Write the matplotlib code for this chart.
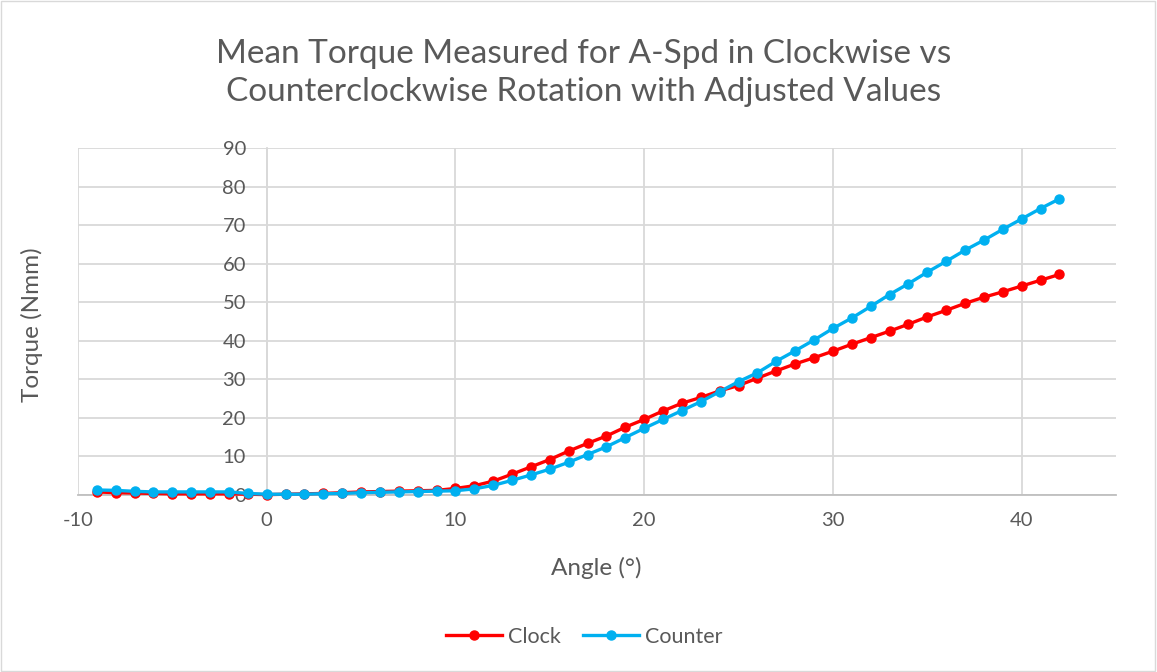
import matplotlib.pyplot as plt
from matplotlib.patches import Rectangle

plt.rcParams['font.family'] = ['Lato', 'DejaVu Sans']
plt.rcParams['axes.unicode_minus'] = False

# angles, degrees
angle = list(range(-9, 43))

# mean torque (Nmm), clockwise
clock = [0.8, 0.6, 0.5, 0.4, 0.3, 0.3, 0.3, 0.3, 0.2, 0.1,
         0.2, 0.3, 0.4, 0.6, 0.8, 0.9, 1.0, 1.1, 1.2, 1.7,
         2.4, 3.6, 5.4, 7.3, 9.2, 11.4, 13.4, 15.3, 17.6, 19.6,
         21.8, 23.8, 25.3, 27.0, 28.4, 30.3, 32.2, 34.0, 35.6, 37.3,
         39.1, 40.8, 42.5, 44.3, 46.2, 47.9, 49.7, 51.3, 52.7, 54.2,
         55.7, 57.2]

# mean torque (Nmm), counterclockwise
counter = [1.3, 1.2, 0.95, 0.8, 0.8, 0.8, 0.8, 0.8, 0.4, 0.2,
           0.2, 0.2, 0.35, 0.4, 0.6, 0.7, 0.8, 0.9, 1.0, 1.1,
           1.6, 2.5, 3.8, 5.2, 6.7, 8.5, 10.5, 12.5, 14.9, 17.3,
           19.6, 21.9, 24.2, 26.8, 29.4, 31.7, 34.7, 37.4, 40.2, 43.2,
           45.9, 48.9, 52.0, 54.8, 57.8, 60.6, 63.5, 66.1, 68.9, 71.6,
           74.3, 76.8]

grey_text = '#595959'
grid_col = '#d9d9d9'

fig = plt.figure(figsize=(11.57, 6.72), dpi=100)
fig.patches.append(Rectangle((0.001, 0.001), 0.997, 0.997, transform=fig.transFigure,
                             fill=False, edgecolor=grid_col, linewidth=1))

ax = fig.add_axes([78 / 1157, 1 - 495 / 672, (1116 - 78) / 1157, (495 - 148) / 672])
ax.plot(angle, clock, color='#ff0000', lw=2.4, marker='o', ms=6.5, label='Clock', clip_on=False, zorder=3)
ax.plot(angle, counter, color='#00b0f0', lw=2.4, marker='o', ms=6.5, label='Counter', clip_on=False, zorder=4)

ax.set_xlim(-10, 45)
ax.set_ylim(0, 90)
ax.set_xticks(range(-10, 41, 10))
ax.set_yticks(range(0, 91, 10))
ax.grid(True, color=grid_col, lw=1.3)
ax.set_axisbelow(True)

for s in ['top', 'right']:
    ax.spines[s].set_visible(False)
ax.spines['left'].set_position(('data', 0))
ax.spines['left'].set_color(grid_col)
ax.spines['left'].set_linewidth(1.3)
ax.spines['bottom'].set_color('#bfbfbf')
ax.spines['bottom'].set_linewidth(1.3)
ax.tick_params(length=0, labelsize=14.5, labelcolor=grey_text)
ax.tick_params(axis='y', pad=15)
ax.tick_params(axis='x', pad=12)
for lab in ax.get_yticklabels():
    lab.set_zorder(5)

fig.text(0.504, 1 - 73 / 672, 'Mean Torque Measured for A-Spd in Clockwise vs\nCounterclockwise Rotation with Adjusted Values',
         ha='center', va='center', fontsize=24, color=grey_text, linespacing=1.3)
fig.text(0.515, 1 - 568 / 672, 'Angle (°)', ha='center', va='center', fontsize=17.5, color=grey_text)
fig.text(32 / 1157, 1 - 325 / 672, 'Torque (Nmm)', ha='center', va='center', rotation=90,
         fontsize=17.5, color=grey_text)

fig.legend(loc='center', bbox_to_anchor=(0.505, 1 - 637 / 672), ncol=2, frameon=False,
           fontsize=15.5, labelcolor=grey_text, handlelength=2.6, columnspacing=1.0, handletextpad=0.3)

fig.savefig('out.png', dpi=100)
